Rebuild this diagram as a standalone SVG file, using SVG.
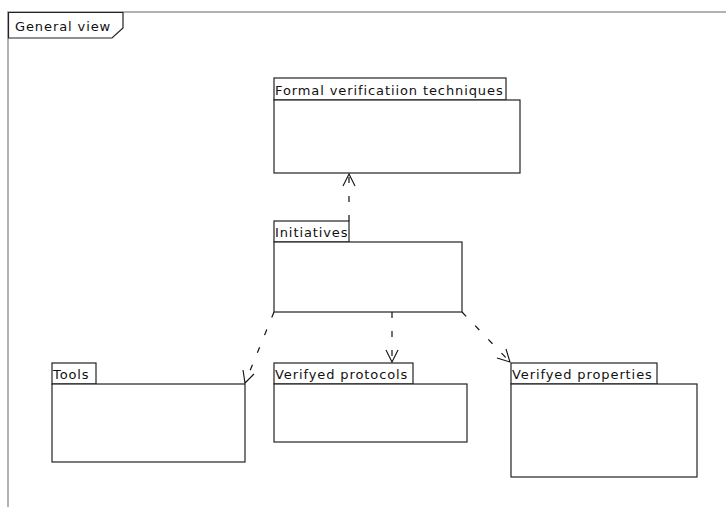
<svg xmlns="http://www.w3.org/2000/svg" width="726" height="507" viewBox="0 0 726 507">
<style>
.box{fill:#fff;stroke:#222;stroke-width:1.2}
.lbl{font-family:"DejaVu Sans",sans-serif;font-size:13px;letter-spacing:0.9px;fill:#111}
.dep{fill:none;stroke:#111;stroke-width:1.2;stroke-dasharray:6,13}
.head{fill:none;stroke:#111;stroke-width:1.1}
.frame{fill:none;stroke:#999;stroke-width:1.5}
</style>
<rect width="726" height="507" fill="#fff"/>
<g id="frame">
<path class="frame" d="M8,507 V12 H726"/>
<path d="M8.5,12.5 H123 V28 L112,38 H8.5 Z" fill="#fff" stroke="#222" stroke-width="1.2"/>
<text class="lbl" x="15" y="31">General view</text>
</g>
<g id="formal">
<rect class="box" x="274" y="78" width="232" height="22"/>
<rect class="box" x="274" y="100" width="246" height="73"/>
<text class="lbl" x="275" y="95">Formal verificatiion techniques</text>
</g>
<g id="initiatives">
<rect class="box" x="274" y="221" width="75" height="21"/>
<rect class="box" x="274" y="242" width="188" height="70"/>
<text class="lbl" x="275" y="237">Initiatives</text>
</g>
<g id="tools">
<rect class="box" x="52" y="363" width="44" height="21"/>
<rect class="box" x="52" y="384" width="193" height="78"/>
<text class="lbl" x="53" y="379">Tools</text>
</g>
<g id="protocols">
<rect class="box" x="274" y="363" width="139" height="21"/>
<rect class="box" x="274" y="384" width="193" height="58"/>
<text class="lbl" x="275" y="379">Verifyed protocols</text>
</g>
<g id="properties">
<rect class="box" x="511" y="363" width="146" height="21"/>
<rect class="box" x="511" y="384" width="186" height="93"/>
<text class="lbl" x="512" y="379">Verifyed properties</text>
</g>
<g id="connectors">
<path class="dep" d="M349,221 V174"/>
<path class="head" d="M343,186 L349,174 L355,186"/>
<path class="dep" d="M274,312 L245,383"/>
<path class="head" d="M243,370 L245,383 L254,374"/>
<path class="dep" d="M392,312 V362"/>
<path class="head" d="M386,350 L392,362 L398,350"/>
<path class="dep" d="M462,312 L510,362"/>
<path class="head" d="M506,349 L510,362 L497,358"/>
</g>
</svg>
